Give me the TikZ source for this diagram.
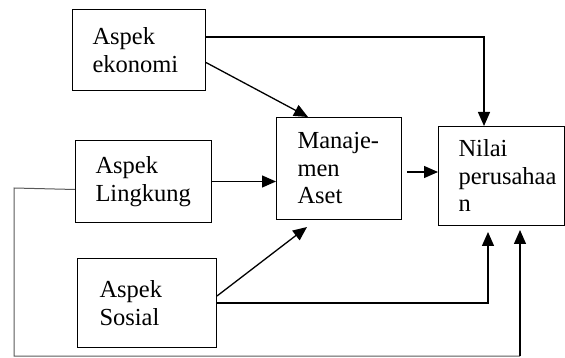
\documentclass[tikz,border=0pt]{standalone}
\usepackage{fontspec}
\setmainfont{Liberation Serif}
\usetikzlibrary{arrows.meta}
\tikzset{
  box/.style={draw, line width=1pt, anchor=north west, align=left, inner ysep=0pt,
    font=\fontsize{24.5}{27.5}\selectfont},
  arr/.style={line width=1.3pt, -{Triangle[length=14pt,width=12pt]}},
  fb/.style={line width=1pt, draw=black!65}
}
\begin{document}
\begin{tikzpicture}[x=1pt,y=-1pt]
\useasboundingbox (0,0) rectangle (565,358);
\node[box, inner xsep=20pt, text width=93pt, minimum height=81pt] (eko) at (72,9) {Aspek\\ekonomi};
\node[box, inner xsep=20pt, text width=96pt, minimum height=82pt] (ling) at (75,140) {Aspek\\Lingkung};
\node[box, inner xsep=22pt, text width=95pt, minimum height=89pt] (sos) at (77,258) {Aspek\\Sosial};
\node[box, inner xsep=21pt, text width=83pt, minimum height=102pt] (man) at (276,117) {Manaje-\\men\\Aset};
\node[box, inner xsep=20pt, text width=86pt, minimum height=99pt] (nil) at (438,126) {Nilai\\perusahaa\\n};

\coordinate (eA) at (484,37);
\coordinate (mn) at (407,172);
\coordinate (s2) at (488,232);
\coordinate (fb1) at (14,188);
\coordinate (fb2) at (14,356);
\coordinate (fb3) at (520,356);
\coordinate (fb4) at (520,230);

% ekonomi -> nilai
\draw[arr] (eko.east |- eA) -- (eA) -- (eA |- nil.north);
% ekonomi -> manajemen
\draw[arr] ([yshift=-12.5pt]eko.east) -- ([xshift=32pt]man.north west);
% lingkung -> manajemen
\draw[arr] (ling.east) -- (ling.east -| man.west);
% manajemen -> nilai
\draw[arr] (mn) -- (mn -| nil.west);
% sosial -> manajemen
\draw[arr] ([yshift=7pt]sos.east) -- ([xshift=31pt,yshift=-7pt]man.south west);
% sosial -> nilai
\draw[arr] (sos.east) -| (s2);
% lingkung feedback -> nilai
\draw[fb] ([yshift=-8pt]ling.west) -- (fb1) -- (fb2) -- (fb3);
\draw[arr] (fb3) -- (fb4);
\end{tikzpicture}
\end{document}
